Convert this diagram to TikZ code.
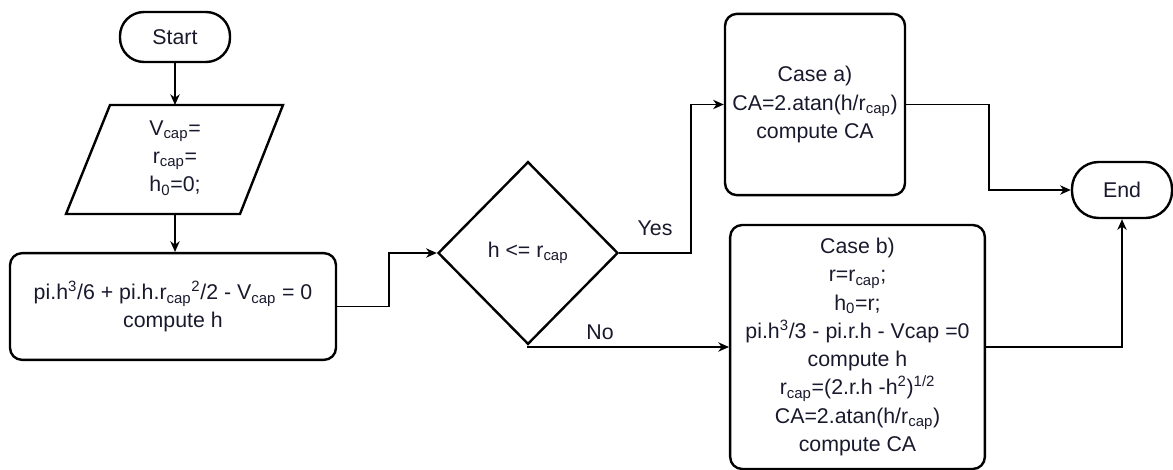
\documentclass[tikz,border=0pt]{standalone}
\usepackage{fontspec}
\setmainfont{Liberation Sans}
\usetikzlibrary{shapes.geometric,arrows.meta}
\definecolor{txt}{RGB}{25,25,45}
\tikzset{
  shapeline/.style={draw=black,line width=1.8pt},
  proc/.style={shapeline,rounded corners=9pt,align=center,text=txt,inner sep=0pt},
  term/.style={shapeline,rounded corners=18pt,align=center,text=txt,inner sep=0pt},
  conn/.style={draw=black,line width=1.1pt,-{Stealth[length=8pt,width=7pt,inset=2.5pt]}},
  lbl/.style={text=txt,inner sep=0pt},
  every node/.append style={font=\fontsize{16}{21.2}\selectfont}
}
\begin{document}
\begin{tikzpicture}[x=0.75pt,y=-0.75pt]
\useasboundingbox (0,0) rectangle (1173,470);
% Start
\node[term,minimum width=82.5pt,minimum height=37.5pt] (start) at (175,37) {Start};
% Input parallelogram
\coordinate (p1) at (110,105);
\coordinate (p2) at (283,105);
\coordinate (p3) at (240,214);
\coordinate (p4) at (66,214);
\draw[shapeline,line join=miter] (p1) -- (p2) -- (p3) -- (p4) -- cycle;
\node[align=center,text=txt,inner sep=0pt] (inp) at (175,158) {V\textsubscript{cap}=\\r\textsubscript{cap}=\\h\textsubscript{0}=0;};
\coordinate (inptop) at (175,105);
\coordinate (inpbot) at (175,214);
% Equation box
\node[proc,minimum width=244.5pt,minimum height=80pt] (eq) at (173,306.5) {pi.h\textsuperscript{3}/6 + pi.h.r\textsubscript{cap}\textsuperscript{2}/2 - V\textsubscript{cap} = 0\\compute h};
% Decision
\node[shapeline,diamond,minimum width=135pt,minimum height=137pt,inner sep=0pt,text=txt] (dia) at (528,253) {h <= r\textsubscript{cap}};
% Case a
\node[proc,minimum width=135pt,minimum height=136pt] (ca) at (815,104.5) {Case a)\\CA=2.atan(h/r\textsubscript{cap})\\compute CA};
% Case b
\node[proc,minimum width=191pt,minimum height=183pt] (cb) at (857.5,347) {Case b)\\r=r\textsubscript{cap};\\h\textsubscript{0}=r;\\pi.h\textsuperscript{3}/3 - pi.r.h - Vcap =0\\compute h\\r\textsubscript{cap}=(2.r.h -h\textsuperscript{2})\textsuperscript{1/2}\\CA=2.atan(h/r\textsubscript{cap})\\compute CA};
% End
\node[term,minimum width=75pt,minimum height=42pt,rounded corners=20pt] (end) at (1122,190) {End};
% Connectors
\draw[conn] (start) -- (inptop);
\draw[conn] (inpbot) -- (eq.north -| inpbot);
\draw[conn] (eq.east) -- ++(52,0) |- (dia.west);
\draw[conn] (dia.east) -- ++(72,0) |- (ca.west);
\draw[conn] (dia.south) |- (cb.west);
\draw[conn] (ca.east) -- ++(83,0) |- (end.west);
\draw[conn] (cb.east) -| (end.south);
% Labels
\node[lbl] (yes) at (655,228) {Yes};
\node[lbl] (no) at (600,332) {No};
\end{tikzpicture}
\end{document}
